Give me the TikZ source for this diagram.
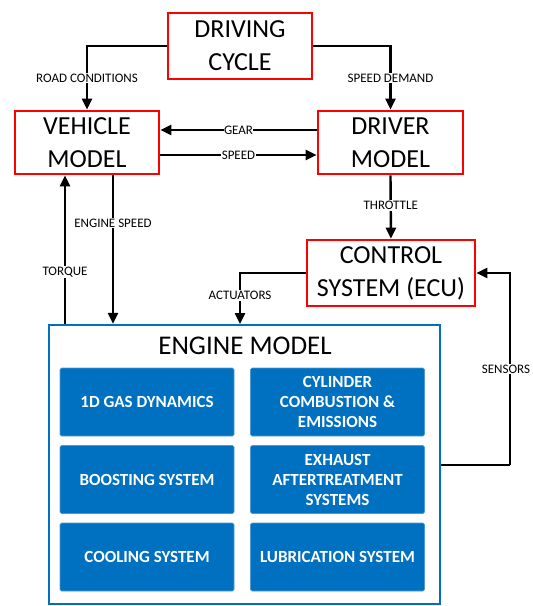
\documentclass[tikz,border=0pt]{standalone}
\usepackage{fontspec}
\setmainfont{Carlito}
\usetikzlibrary{arrows.meta,calc}
\definecolor{boxred}{RGB}{255,0,0}
\definecolor{engblue}{RGB}{0,112,192}
\begin{document}
\begin{tikzpicture}[x=1pt,y=-1pt,
  redbox/.style={draw=boxred,line width=2.6pt,fill=white,align=center,
    font=\fontsize{26}{33}\selectfont,inner sep=0pt},
  blk/.style={fill=engblue,draw=engblue!70!white,line width=0.6pt,rounded corners=1.5pt,
    minimum width=174pt,minimum height=68pt,align=center,text=white,
    font=\bfseries\fontsize{17}{20}\selectfont,inner sep=0pt},
  arr/.style={line width=2.4pt,-{Triangle[length=11pt,width=10pt]}},
  lin/.style={line width=2.4pt},
  lbl/.style={fill=white,inner sep=1pt,font=\fontsize{13}{14}\selectfont}]
\useasboundingbox (0,0) rectangle (533,606);
% main boxes
\node[redbox,minimum width=144pt,minimum height=66pt] (dc) at (240,46) {DRIVING\\CYCLE};
\node[redbox,minimum width=144pt,minimum height=63pt] (vm) at (87,142.5) {VEHICLE\\MODEL};
\node[redbox,minimum width=145pt,minimum height=63pt] (drv) at (390.5,142.5) {DRIVER\\MODEL};
\node[redbox,minimum width=168pt,minimum height=66pt] (ecu) at (391,273) {CONTROL\\SYSTEM (ECU)};
\node[draw=engblue,line width=2.4pt,minimum width=391pt,minimum height=279pt,inner sep=0pt] (eng) at (244.5,464.5) {};
\node[font=\fontsize{27}{30}\selectfont,inner sep=0pt] (engt) at (245,346) {ENGINE MODEL};
% inner blocks
\node[blk] (gas) at (147,402) {1D GAS DYNAMICS};
\node[blk] (cyl) at (337.5,402) {CYLINDER\\COMBUSTION \&\\EMISSIONS};
\node[blk] (boost) at (147,479.5) {BOOSTING SYSTEM};
\node[blk] (exh) at (337.5,479.5) {EXHAUST\\AFTERTREATMENT\\SYSTEMS};
\node[blk] (cool) at (147,557) {COOLING SYSTEM};
\node[blk] (lub) at (337.5,557) {LUBRICATION SYSTEM};
% connectors
\draw[arr] (dc.west) -| node[lbl,pos=0.75] {ROAD CONDITIONS} (vm.north);
\draw[arr] (dc.east) -| node[lbl,pos=0.75] {SPEED DEMAND} (drv.north);
\draw[arr] ([yshift=12.5pt]drv.west) -- node[lbl,inner sep=0.5pt] {GEAR} ([yshift=12.5pt]vm.east);
\draw[arr] ([yshift=-12.5pt]vm.east) -- node[lbl,inner sep=0.5pt] {SPEED} ([yshift=-12.5pt]drv.west);
\draw[arr] (drv.south) -- node[lbl,pos=0.48] {THROTTLE} (ecu.north);
\draw[arr] ([xshift=26pt]vm.south) -- node[lbl,pos=0.32] {ENGINE SPEED} ([xshift=26pt]vm.south |- eng.north);
\draw[arr] ([xshift=-22pt]vm.south |- eng.north) -- node[lbl,pos=0.35] {TORQUE} ([xshift=-22pt]vm.south);
\coordinate (actx) at (240,324);
\draw[arr] (ecu.west) -| node[lbl,pos=0.72] {ACTUATORS} (actx);
\coordinate (senc) at (510,465);
\draw[lin] (eng.east |- senc) -- (senc);
\draw[arr] (senc) |- node[lbl,pos=0.25,xshift=-4pt] {SENSORS} (ecu.east);
\end{tikzpicture}
\end{document}
